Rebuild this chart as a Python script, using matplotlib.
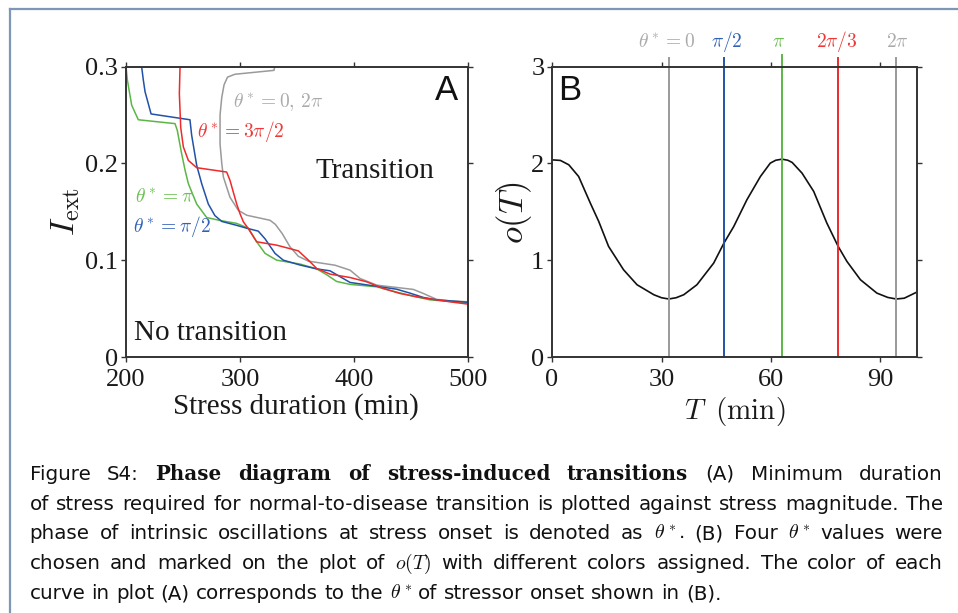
"""Phase diagram of stress-induced transitions (Figure S4) with caption."""
import matplotlib
matplotlib.use('Agg')
import matplotlib.pyplot as plt
from matplotlib.lines import Line2D

W, H = 958, 613

# panel A: minimum stress duration (min) vs. stress magnitude I_ext
green_x = [200, 201.2, 205, 210.8, 243, 245, 248.8, 251.8, 254.7, 262, 270.8, 282.5, 297, 307.3, 314.6, 322, 332.2, 352.6, 367.3, 376, 384.8, 396.5, 419.9, 437.4, 455, 466.7, 500]
green_y = [0.300, 0.286, 0.260, 0.245, 0.241, 0.234, 0.210, 0.193, 0.179, 0.158, 0.144, 0.141, 0.138, 0.133, 0.119, 0.107, 0.100, 0.096, 0.091, 0.085, 0.078, 0.075, 0.0725, 0.067, 0.062, 0.059, 0.056]
blue_x = [213.7, 215.2, 216.7, 222, 256.1, 257.6, 262, 266.4, 272.2, 278, 284, 297, 305.9, 316, 322, 330.7, 338, 352.6, 367.3, 379, 387.7, 396.5, 414, 419.9, 437.4, 449, 460.8, 472.5, 500]
blue_y = [0.300, 0.286, 0.274, 0.251, 0.245, 0.229, 0.198, 0.179, 0.158, 0.146, 0.140, 0.136, 0.133, 0.130, 0.122, 0.107, 0.100, 0.095, 0.091, 0.089, 0.083, 0.077, 0.074, 0.073, 0.070, 0.066, 0.0615, 0.059, 0.0565]
red_x = [247.4, 246.8, 248, 250.3, 254.7, 262, 288.3, 291.2, 294.2, 297.1, 300, 303, 307.3, 314.6, 332.2, 351.2, 360, 367.3, 379, 396.5, 411, 425.7, 440.4, 455, 469.6, 484.2, 500]
red_y = [0.300, 0.272, 0.237, 0.217, 0.203, 0.1955, 0.191, 0.1825, 0.170, 0.158, 0.148, 0.1395, 0.1326, 0.119, 0.1155, 0.1096, 0.100, 0.0914, 0.0856, 0.0821, 0.0777, 0.0708, 0.0656, 0.0622, 0.0595, 0.057, 0.0546]
gray_x = [330.5, 329.8, 295.6, 289, 286, 284, 282.5, 282.5, 284, 285.4, 291.2, 298.5, 305.9, 326.3, 331, 337, 343.9, 351.2, 360, 383.3, 396.5, 405.3, 419.9, 452, 460.8, 472.5, 484.2, 500]
gray_y = [0.300, 0.296, 0.292, 0.289, 0.281, 0.268, 0.250, 0.220, 0.200, 0.186, 0.165, 0.1515, 0.1464, 0.1412, 0.137, 0.1275, 0.1137, 0.104, 0.099, 0.0948, 0.0897, 0.0811, 0.0742, 0.0698, 0.0656, 0.0595, 0.058, 0.057]

# panel B: intrinsic oscillation o(T)
osc_t = [0, 2.3, 4.6, 7.3, 10.5, 12.8, 15.5, 19.6, 23.3, 27.9, 30.0, 32.0, 34.0, 36.1, 39.7, 44.3, 47.1, 49.8, 53.4, 57.1, 59.8, 61.3, 63.0, 64.6, 65.8, 68.5, 71.7, 75.3, 78.4, 80.8, 84.5, 89.0, 92.0, 94.3, 96.5, 100]
osc_o = [2.036, 2.03, 1.985, 1.864, 1.589, 1.40, 1.142, 0.901, 0.746, 0.643, 0.612, 0.599, 0.612, 0.643, 0.746, 0.970, 1.176, 1.348, 1.624, 1.864, 2.002, 2.032, 2.043, 2.032, 2.009, 1.899, 1.710, 1.383, 1.142, 0.987, 0.798, 0.660, 0.615, 0.599, 0.607, 0.671]
onset_t = [32.0, 47.1, 63.0, 78.4, 94.3]
onset_top = [3.087, 3.087, 3.12, 3.087, 3.087]
onset_label_t = [31.3, 47.9, 62.0, 77.9, 94.6]
onset_labels = [r'$\theta^* = 0$', r'$\pi/2$', r'$\pi$', r'$2\pi/3$', r'$2\pi$']

GRAY, BLUE, GREEN, RED = '#9a9a9a', '#2152a8', '#5cb646', '#ee2a2a'
GRAY_T, BLUE_T, GREEN_T, RED_T = '#ababab', '#3262b8', '#6cc152', '#f03838'
onset_colors = [GRAY, BLUE, GREEN, RED, GRAY]
onset_text_colors = [GRAY_T, BLUE_T, GREEN_T, RED_T, GRAY_T]

caption = [
    [('Figure S4:', False), ('Phase diagram of stress-induced transitions', True), ('(A) Minimum duration', False)],
    [('of stress required for normal-to-disease transition is plotted against stress magnitude. The', False)],
    [(r'phase of intrinsic oscillations at stress onset is denoted as $\theta^*$. (B) Four $\theta^*$ values were', False)],
    [(r'chosen and marked on the plot of $o(T)$ with different colors assigned. The color of each', False)],
    [(r'curve in plot (A) corresponds to the $\theta^*$ of stressor onset shown in (B).', False)],
]
caption_baselines = [480, 509.5, 539.3, 569, 599]

plt.rcParams['mathtext.fontset'] = 'cm'
plt.rcParams['font.family'] = ['Liberation Serif', 'DejaVu Serif']

CAP_SIZE = 14.3


def px_rect(l, t, r, b):
    return [l / W, 1 - b / H, (r - l) / W, (b - t) / H]


def style_axes(ax):
    for s in ax.spines.values():
        s.set_color('#333333')
        s.set_linewidth(1.4)
    ax.tick_params(direction='out', length=3.5, width=1, colors='#333333', labelcolor='#1a1a1a',
                   labelsize=19, top=True, right=True, pad=2)
    ax.tick_params(axis='x', pad=5)


def caption_line(fig, renderer, segments, y, x0, x1, justify):
    texts = []
    for seg, bold in segments:
        for w in seg.split(' '):
            if bold:
                t = fig.text(0, 1 - y / H, w, family='DejaVu Serif', weight='bold', fontsize=CAP_SIZE,
                             color='#111111', ha='left', va='baseline')
            else:
                t = fig.text(0, 1 - y / H, w, family='DejaVu Sans', fontsize=CAP_SIZE,
                             color='#111111', ha='left', va='baseline')
            texts.append(t)
    widths = [t.get_window_extent(renderer).width for t in texts]
    space = CAP_SIZE * 0.32 * fig.dpi / 72
    gap = (x1 - x0 - sum(widths)) / (len(texts) - 1) if justify else space
    x = x0
    for t, w in zip(texts, widths):
        t.set_x(x / W)
        x += w + gap


fig = plt.figure(figsize=(W / 100, H / 100), dpi=100)

# page frame
fig.add_artist(Line2D([10 / W, 10 / W], [0, 1 - 9 / H], color='#7f97b6', lw=1.6))
fig.add_artist(Line2D([10 / W, 1], [1 - 9 / H, 1 - 9 / H], color='#7f97b6', lw=1.6))

axA = fig.add_axes(px_rect(126, 66.5, 468, 357))
axB = fig.add_axes(px_rect(552, 66.5, 917, 357))

# --- A ---
axA.plot(gray_x, gray_y, color=GRAY, lw=1.1)
axA.plot(green_x, green_y, color=GREEN, lw=1.1)
axA.plot(blue_x, blue_y, color=BLUE, lw=1.1)
axA.plot(red_x, red_y, color=RED, lw=1.1)
axA.set_xlim(200, 500)
axA.set_ylim(0, 0.3)
axA.set_xticks([200, 300, 400, 500])
axA.set_yticks([0, 0.1, 0.2, 0.3], ['0', '0.1', '0.2', '0.3'])
style_axes(axA)
axA.text(294, 0.258, r'$\theta^* = 0,\, 2\pi$', color=GRAY_T, fontsize=14, va='baseline')
axA.text(262.3, 0.227, r'$\theta^* = 3\pi/2$', color=RED_T, fontsize=14, va='baseline')
axA.text(207.9, 0.160, r'$\theta^* = \pi$', color=GREEN_T, fontsize=14, va='baseline')
axA.text(206, 0.129, r'$\theta^* = \pi/2$', color=BLUE_T, fontsize=14, va='baseline')
axA.text(365.8, 0.1845, 'Transition', fontsize=21, color='#1a1a1a', va='baseline')
axA.text(207, 0.0175, 'No transition', fontsize=21, color='#1a1a1a', va='baseline')
axA.text(0.9035, 0.883, 'A', transform=axA.transAxes, fontsize=25, family='Liberation Sans',
         color='#111111', va='baseline')
fig.text(296 / W, 1 - 407 / H, 'Stress duration (min)', fontsize=21, color='#1a1a1a', ha='center', va='center')
fig.text(66 / W, 1 - 212 / H, r'$I_{\rm ext}$', fontsize=25, rotation=90, color='#1a1a1a', ha='center', va='center')

# --- B ---
axB.plot(osc_t, osc_o, color='#111111', lw=1.2)
for t, top, c in zip(onset_t, onset_top, onset_colors):
    axB.plot([t, t], [0, top], color=c, lw=1.4, clip_on=False)
for t, lab, c in zip(onset_label_t, onset_labels, onset_text_colors):
    axB.text(t, 3.2, lab, color=c, fontsize=14, ha='center', va='baseline')
axB.set_xlim(0, 100)
axB.set_ylim(0, 3)
axB.set_xticks([0, 30, 60, 90])
axB.set_yticks([0, 1, 2, 3])
style_axes(axB)
axB.text(0.016, 0.883, 'B', transform=axB.transAxes, fontsize=25, family='Liberation Sans',
         color='#111111', va='baseline')
fig.text(735 / W, 1 - 411 / H, r'$T\;\;(\mathrm{min})$', fontsize=21, color='#1a1a1a', ha='center', va='center')
fig.text(513.5 / W, 1 - 212.5 / H, r'$o(T)$', fontsize=25, rotation=90, color='#1a1a1a', ha='center', va='center')

# --- caption, justified word by word ---
renderer = fig.canvas.get_renderer()
for i, (segs, y) in enumerate(zip(caption, caption_baselines)):
    caption_line(fig, renderer, segs, y, 29.5, 943, justify=i < len(caption) - 1)

fig.savefig('out.png', dpi=100)
